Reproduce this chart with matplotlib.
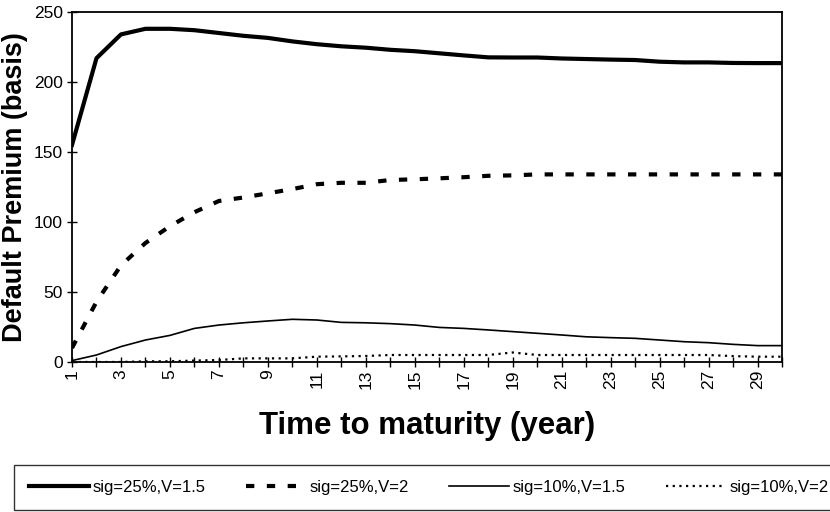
import matplotlib

matplotlib.use("Agg")
import matplotlib.pyplot as plt  # noqa: E402

# time to maturity, years 1..30
years = list(range(1, 31))

# sig=25%, V=1.5
prem_25_15 = [155, 217, 234, 238, 238, 237, 235, 233, 231.5, 229,
              227, 225.5, 224.5, 223, 222, 220.5, 219, 217.6, 217.5, 217.5,
              216.8, 216.4, 216, 215.7, 214.5, 214, 214, 213.6, 213.5, 213.5]
# sig=25%, V=2
prem_25_2 = [10, 43, 69, 85, 97, 107, 115, 117.5, 120.5, 123.5,
             127, 128, 128, 130, 130.5, 131.2, 132, 133, 133.3, 134,
             134, 134, 134, 134, 134, 134, 134, 134, 134, 134]
# sig=10%, V=1.5
prem_10_15 = [1, 5, 11, 15.7, 19, 24, 26.4, 28, 29.3, 30.5,
              30, 28.3, 28, 27.4, 26.4, 24.7, 24, 22.9, 21.7, 20.5,
              19.3, 18, 17.4, 16.9, 15.7, 14.5, 13.8, 12.6, 11.7, 11.7]
# sig=10%, V=2
prem_10_2 = [0, 0, 0, 0.5, 0.5, 1, 1.4, 2.6, 2.6, 2.6,
             3.8, 4, 4.3, 5, 5, 5, 5, 5, 6.8, 5,
             5, 5, 5, 5, 5, 5, 5, 4.2, 3.8, 3.8]

series_labels = ["sig=25%,V=1.5", "sig=25%,V=2", "sig=10%,V=1.5", "sig=10%,V=2"]

plt.rcParams["font.family"] = ["Liberation Sans", "DejaVu Sans"]

fig = plt.figure(figsize=(8.3, 5.12), dpi=100)
ax = fig.add_axes([72 / 830, 1 - 362 / 512, 710 / 830, 350 / 512])

l1, = ax.plot(years, prem_25_15, color="black", lw=3.0, solid_joinstyle="round")
l2, = ax.plot(years, prem_25_2, color="black", lw=3.0, dash_capstyle="butt")
l2.set_dashes((2, 3))
l3, = ax.plot(years, prem_10_15, color="black", lw=1.2)
l4, = ax.plot(years, prem_10_2, color="black", lw=1.6)
l4.set_dashes((1, 2))

ax.set_xlim(1, 30)
ax.set_ylim(0, 250)
ax.set_yticks(range(0, 251, 50))
ax.set_xticks(years)
ax.set_xticklabels([str(y) if y % 2 == 1 else "" for y in years], rotation=90)
ax.tick_params(axis="both", direction="inout", length=7, width=1,
               labelsize=12.5, colors="black")
ax.tick_params(axis="x", pad=2)
ax.tick_params(axis="y", pad=3)
for sp in ax.spines.values():
    sp.set_linewidth(1.3)

ax.set_ylabel("Default Premium (basis)", fontsize=19.5, fontweight="bold", labelpad=4)
ax.set_xlabel("Time to maturity (year)", fontsize=22.5, fontweight="bold", labelpad=16)

leg = fig.legend(
    [l1, l2, l3, l4], series_labels,
    loc="lower left", bbox_to_anchor=(14 / 830, 2 / 512, 830 / 830, 44 / 512),
    mode="expand", ncol=4, frameon=True, fancybox=False,
    prop={"size": 12},
    handlelength=3.6, handletextpad=0.2, borderaxespad=0, borderpad=0.9,
)
leg.get_frame().set_edgecolor("black")
leg.get_frame().set_linewidth(1.0)

fig.savefig("out.png", dpi=100)
